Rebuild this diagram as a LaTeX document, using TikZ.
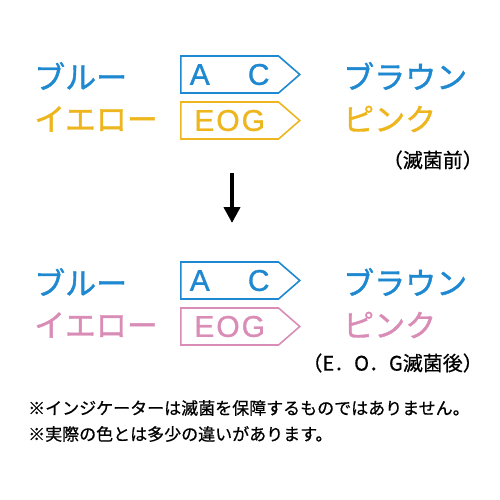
\documentclass[tikz,border=0pt]{standalone}
\usepackage{fontspec}
\setmainfont{Liberation Sans}[FakeBold=1]
\newfontfamily\jp{Noto Sans CJK JP}[FakeBold=1.2]
\newfontfamily\jpnote{Noto Sans CJK JP}[FakeBold=0.6]
\usetikzlibrary{shapes.symbols, arrows.meta}

\definecolor{eogblue}{HTML}{1E88D0}
\definecolor{eogyellow}{HTML}{EDB61E}
\definecolor{eogpink}{HTML}{D98CB5}

\begin{document}
\begin{tikzpicture}[
            x=1pt, y=-1pt,
            color label/.style={anchor=west, inner sep=0pt, font=\jp\fontsize{31}{31}\selectfont},
            tag/.style={signal, signal to=east, signal pointer angle=82, draw, line width=1.6pt,
                minimum height=37pt, minimum width=119pt, inner sep=0pt, anchor=west,
                font=\fontsize{30}{30}\selectfont},
            note/.style={anchor=west, inner sep=0pt, font=\jpnote\fontsize{17}{17}\selectfont}
        ]
            \useasboundingbox (0,0) rectangle (500,500);

            % before sterilisation
            \node[color label, eogblue] (blue1) at (34,76) {ブルー};
            \node[color label, eogyellow] (yellow1) at (34,119) {イエロー};
            \node[tag, eogblue] (tag1) at (180,74.5) {A\hspace{1.27em}C};
            \node[tag, eogyellow] (tag2) at (180,120.5) {E\kern2pt O\kern2pt G};
            \node[color label, eogblue] (brown1) at (343,76) {ブラウン};
            \node[color label, eogyellow] (pink1) at (343,119) {ピンク};
            \node[anchor=east, inner sep=0pt, font=\jpnote\fontsize{20}{20}\selectfont] (before) at (483,160) {（滅菌前）};

            \coordinate (down top) at (232,173);
            \coordinate (down end) at (232,223);
            \draw[line width=4pt, -{Triangle[length=16pt, width=16pt]}] (down top) -- (down end);

            % after sterilisation
            \node[color label, eogblue] (blue2) at (34,282) {ブルー};
            \node[color label, eogpink] (yellow2) at (34,325) {イエロー};
            \node[tag, eogblue] (tag3) at (180,280.5) {A\hspace{1.27em}C};
            \node[tag, eogpink] (tag4) at (180,326.5) {E\kern2pt O\kern2pt G};
            \node[color label, eogblue] (brown2) at (343,282) {ブラウン};
            \node[color label, eogpink] (pink2) at (343,325) {ピンク};
            \node[anchor=east, inner sep=0pt, font=\jpnote\fontsize{20}{20}\selectfont] (after) at (483,363) {（E．O．G滅菌後）};

            \node[note] (note1) at (28,408) {※インジケーターは滅菌を保障するものではありません。};
            \node[note] (note2) at (28,434) {※実際の色とは多少の違いがあります。};

        \end{tikzpicture}
\end{document}
